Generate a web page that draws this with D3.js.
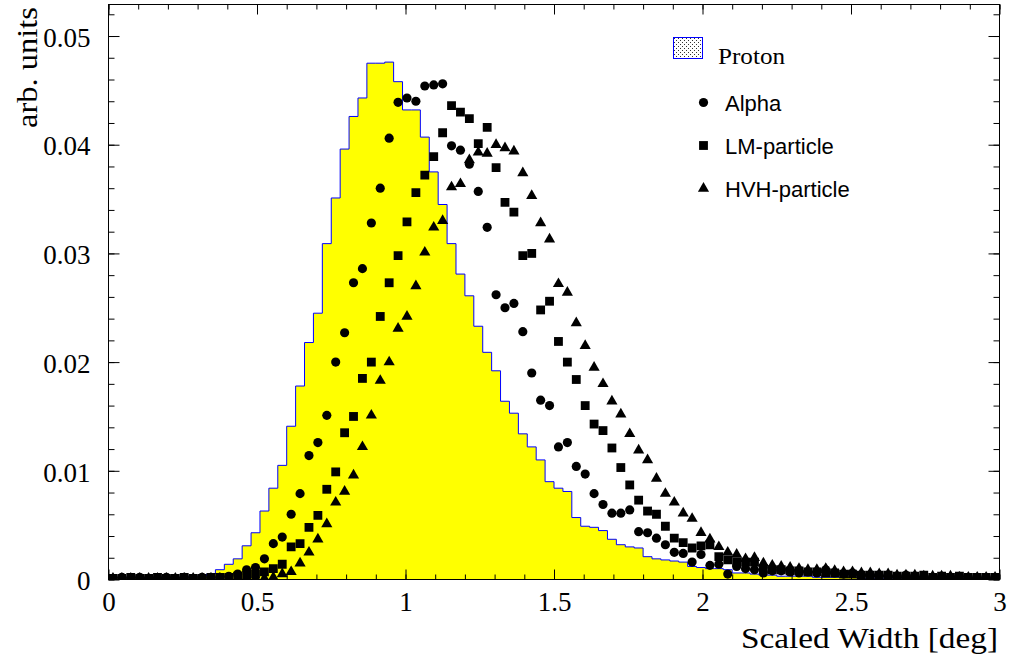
<!DOCTYPE html>
<html>
<head>
<meta charset="utf-8">
<script src="https://cdn.jsdelivr.net/npm/d3@7"></script>
<style>
    body { margin: 0; background: #fff; }
    svg { display: block; }
</style>
</head>
<body>
<div id="chart"></div>
<script>
"use strict";

// bin layout: 100 bins of 0.03 deg from 0 to 3
var binWidth = 0.03;
var nBins = 100;

// Proton histogram (bin contents, left to right)
var protonValues = [
    0.0002, 0.0002, 0.0002, 0.0002, 0.0002, 0.0002, 0.0002, 0.0002, 0.0002, 0.0003,
    0.0003, 0.0005, 0.0009, 0.0014, 0.0019, 0.0031, 0.0043, 0.0063, 0.0084, 0.0105,
    0.0141, 0.0178, 0.0218, 0.0245, 0.0309, 0.0351, 0.0396, 0.0426, 0.0443, 0.0475,
    0.0475, 0.0476, 0.0458, 0.0432, 0.0432, 0.0407, 0.0375, 0.0345, 0.0309, 0.0281,
    0.0261, 0.0233, 0.0209, 0.0192, 0.0164, 0.0153, 0.0134, 0.0122, 0.0110, 0.0090,
    0.0084, 0.0081, 0.0057, 0.0049, 0.0048, 0.0045, 0.0037, 0.0032, 0.0030, 0.0029,
    0.0021, 0.0019, 0.0018, 0.0017, 0.0016, 0.0012, 0.0011, 0.0010, 0.0010, 0.0009,
    0.0006, 0.0006, 0.0005, 0.0004, 0.0004, 0.0003, 0.0003, 0.0003, 0.0003, 0.0002,
    0.0002, 0.0002, 0.0002, 0.0002, 0.0001, 0.0001, 0.0001, 0.0001, 0.0001, 0.0001,
    0.0001, 0.0001, 0.0001, 0.0001, 0.0001, 0.0001, 0.0001, 0.0001, 0.0001, 0.0001
];

var alphaValues = [
    0.0001, 0.0002, 0.0001, 0.0002, 0.0001, 0.0001, 0.0002, 0.0001, 0.0002, 0.0001,
    0.0002, 0.0002, 0.0002, 0.0003, 0.0005, 0.0009, 0.0011, 0.0019, 0.0033, 0.0039,
    0.0060, 0.0079, 0.0114, 0.0126, 0.0151, 0.0200, 0.0227, 0.0273, 0.0286, 0.0328,
    0.0360, 0.0406, 0.0439, 0.0443, 0.0440, 0.0454, 0.0455, 0.0456, 0.0399, 0.0395,
    0.0382, 0.0357, 0.0324, 0.0262, 0.0250, 0.0254, 0.0228, 0.0190, 0.0165, 0.0160,
    0.0122, 0.0126, 0.0104, 0.0097, 0.0079, 0.0069, 0.0061, 0.0061, 0.0064, 0.0044,
    0.0043, 0.0038, 0.0032, 0.0025, 0.0024, 0.0016, 0.0023, 0.0013, 0.0014, 0.0005,
    0.0012, 0.0010, 0.0009, 0.0006, 0.0008, 0.0008, 0.0007, 0.0006, 0.0007, 0.0006,
    0.0009, 0.0006, 0.0005, 0.0006, 0.0004, 0.0004, 0.0004, 0.0003, 0.0003, 0.0004,
    0.0003, 0.0003, 0.0002, 0.0003, 0.0002, 0.0003, 0.0002, 0.0002, 0.0002, 0.0002
];

var lmValues = [
    0.0001, 0.0001, 0.0002, 0.0001, 0.0001, 0.0002, 0.0001, 0.0001, 0.0002, 0.0001,
    0.0001, 0.0002, 0.0002, 0.0002, 0.0003, 0.0004, 0.0005, 0.0007, 0.0010, 0.0014,
    0.0030, 0.0033, 0.0048, 0.0059, 0.0083, 0.0099, 0.0135, 0.0150, 0.0185, 0.0200,
    0.0242, 0.0273, 0.0298, 0.0329, 0.0356, 0.0372, 0.0389, 0.0411, 0.0436, 0.0430,
    0.0424, 0.0401, 0.0416, 0.0379, 0.0347, 0.0338, 0.0298, 0.0300, 0.0248, 0.0256,
    0.0219, 0.0200, 0.0184, 0.0160, 0.0143, 0.0137, 0.0121, 0.0103, 0.0087, 0.0073,
    0.0063, 0.0060, 0.0049, 0.0038, 0.0034, 0.0029, 0.0031, 0.0032, 0.0021, 0.0018,
    0.0016, 0.0016, 0.0016, 0.0010, 0.0009, 0.0009, 0.0008, 0.0008, 0.0007, 0.0007,
    0.0006, 0.0006, 0.0005, 0.0005, 0.0004, 0.0004, 0.0004, 0.0004, 0.0003, 0.0003,
    0.0003, 0.0004, 0.0002, 0.0003, 0.0002, 0.0003, 0.0002, 0.0002, 0.0002, 0.0002
];

var hvhValues = [
    0.0001, 0.0001, 0.0001, 0.0001, 0.0001, 0.0001, 0.0001, 0.0001, 0.0001, 0.0001,
    0.0001, 0.0001, 0.0001, 0.0001, 0.0001, 0.0001, 0.0001, 0.0001, 0.0002, 0.0005,
    0.0007, 0.0015, 0.0025, 0.0037, 0.0051, 0.0071, 0.0081, 0.0096, 0.0122, 0.0151,
    0.0183, 0.0200, 0.0231, 0.0242, 0.0270, 0.0301, 0.0324, 0.0330, 0.0361, 0.0364,
    0.0386, 0.0393, 0.0392, 0.0400, 0.0397, 0.0394, 0.0374, 0.0353, 0.0328, 0.0313,
    0.0272, 0.0264, 0.0236, 0.0215, 0.0195, 0.0180, 0.0164, 0.0152, 0.0134, 0.0119,
    0.0110, 0.0093, 0.0079, 0.0071, 0.0061, 0.0056, 0.0043, 0.0037, 0.0030, 0.0025,
    0.0023, 0.0019, 0.0020, 0.0015, 0.0013, 0.0012, 0.0011, 0.0010, 0.0009, 0.0009,
    0.0010, 0.0008, 0.0007, 0.0007, 0.0006, 0.0006, 0.0005, 0.0005, 0.0004, 0.0004,
    0.0004, 0.0003, 0.0003, 0.0003, 0.0003, 0.0002, 0.0002, 0.0002, 0.0002, 0.0002
];

var xMajorTicks = [0, 0.5, 1, 1.5, 2, 2.5, 3];
var yMajorTicks = [0, 0.01, 0.02, 0.03, 0.04, 0.05];
var xTickLabels = ["0", "0.5", "1", "1.5", "2", "2.5", "3"];
var yTickLabels = ["0", "0.01", "0.02", "0.03", "0.04", "0.05"];

var legendLabels = ["Proton", "Alpha", "LM-particle", "HVH-particle"];

function draw_chart() {
    var width = 1011, height = 661;
    var left = 108.5, right = 999.5, top = 4.5, bottom = 579.5;

    var svg = d3.select("#chart").append("svg")
        .attr("width", width)
        .attr("height", height);

    var x = d3.scaleLinear().domain([0, 3]).range([left, right]);
    var y = d3.scaleLinear().domain([0, 0.0529]).range([bottom, top]);

    var defs = svg.append("defs");
    defs.append("clipPath").attr("id", "plotclip")
        .append("rect")
        .attr("x", left).attr("y", top)
        .attr("width", right - left).attr("height", bottom - top);

    // dotted fill for the legend box
    var pat = defs.append("pattern").attr("id", "dots")
        .attr("patternUnits", "userSpaceOnUse")
        .attr("width", 4).attr("height", 4);
    pat.append("rect").attr("width", 4).attr("height", 4).attr("fill", "#fff");
    pat.append("rect").attr("x", 0).attr("y", 0).attr("width", 1).attr("height", 1).attr("fill", "#333");
    pat.append("rect").attr("x", 2).attr("y", 2).attr("width", 1).attr("height", 1).attr("fill", "#333");

    var plot = svg.append("g").attr("clip-path", "url(#plotclip)");

    // Proton histogram as a step curve
    var steps = protonValues.map(function (v, i) { return { x: i * binWidth, v: v }; });
    steps.push({ x: nBins * binWidth, v: protonValues[nBins - 1] });

    plot.append("path")
        .datum(steps)
        .attr("fill", "#ffff00")
        .attr("stroke", "none")
        .attr("d", d3.area()
            .curve(d3.curveStepAfter)
            .x(function (d) { return x(d.x); })
            .y0(y(0))
            .y1(function (d) { return y(d.v); }));

    plot.append("path")
        .datum(steps)
        .attr("fill", "none")
        .attr("stroke", "#0000ff")
        .attr("stroke-width", 1)
        .attr("d", d3.line()
            .curve(d3.curveStepAfter)
            .x(function (d) { return x(d.x); })
            .y(function (d) { return y(d.v); }));

    // markers at bin centres
    var series = [
        { values: alphaValues, symbol: d3.symbolCircle, size: 66 },
        { values: lmValues, symbol: d3.symbolSquare, size: 78 },
        { values: hvhValues, symbol: d3.symbolTriangle, size: 54 }
    ];

    series.forEach(function (s) {
        plot.append("g").selectAll("path")
            .data(s.values)
            .enter().append("path")
            .attr("transform", function (d, i) {
                return "translate(" + x((i + 0.5) * binWidth) + "," + y(d) + ")";
            })
            .attr("d", d3.symbol().type(s.symbol).size(s.size))
            .attr("fill", "#000");
    });

    // Axes: ticks inward on all four sides
    var xMinor = d3.range(0, 3.001, 0.1).map(function (d) { return +d.toFixed(1); });
    var yMinor = d3.range(0, 0.0525, 0.002).map(function (d) { return +d.toFixed(3); });

    var axisFont = "Liberation Serif, Times New Roman, serif";

    var xb = svg.append("g").attr("transform", "translate(0," + bottom + ")");
    xb.call(d3.axisBottom(x).tickValues(xMinor).tickSize(-5).tickFormat(""));
    xb.append("g").call(d3.axisBottom(x).tickValues(xMajorTicks).tickSize(-10).tickPadding(12)
        .tickFormat(function (d, i) { return xTickLabels[i]; }));

    var xt = svg.append("g").attr("transform", "translate(0," + top + ")");
    xt.call(d3.axisTop(x).tickValues(xMinor).tickSize(-5).tickFormat(""));
    xt.append("g").call(d3.axisTop(x).tickValues(xMajorTicks).tickSize(-10).tickFormat(""));

    var yl = svg.append("g").attr("transform", "translate(" + left + ",0)");
    yl.call(d3.axisLeft(y).tickValues(yMinor).tickSize(-6).tickFormat(""));
    yl.append("g").call(d3.axisLeft(y).tickValues(yMajorTicks).tickSize(-11).tickPadding(18)
        .tickFormat(function (d, i) { return yTickLabels[i]; }));

    var yr = svg.append("g").attr("transform", "translate(" + right + ",0)");
    yr.call(d3.axisRight(y).tickValues(yMinor).tickSize(-6).tickFormat(""));
    yr.append("g").call(d3.axisRight(y).tickValues(yMajorTicks).tickSize(-11).tickFormat(""));

    svg.selectAll(".domain").remove();
    svg.selectAll(".tick line").attr("stroke", "#000").attr("stroke-width", 1);
    svg.selectAll(".tick text")
        .attr("font-family", axisFont)
        .attr("font-size", 27)
        .attr("fill", "#000");
    yl.selectAll(".tick text").attr("dy", "0.38em");

    // frame
    svg.append("rect")
        .attr("x", left).attr("y", top)
        .attr("width", right - left).attr("height", bottom - top)
        .attr("fill", "none")
        .attr("stroke", "#000")
        .attr("stroke-width", 1);

    // axis titles
    svg.append("text")
        .attr("x", 998).attr("y", 648)
        .attr("text-anchor", "end")
        .attr("font-family", axisFont)
        .attr("font-size", 29)
        .attr("textLength", 257)
        .attr("lengthAdjust", "spacingAndGlyphs")
        .text("Scaled Width [deg]");

    svg.append("text")
        .attr("transform", "translate(37,7) rotate(-90)")
        .attr("text-anchor", "end")
        .attr("font-family", axisFont)
        .attr("font-size", 29)
        .attr("textLength", 121)
        .attr("lengthAdjust", "spacingAndGlyphs")
        .text("arb. units");

    // legend
    var lg = svg.append("g");
    lg.append("rect")
        .attr("x", 673.5).attr("y", 37.5)
        .attr("width", 29).attr("height", 21)
        .attr("fill", "url(#dots)")
        .attr("stroke", "#0000ff")
        .attr("stroke-width", 1);
    lg.append("text")
        .attr("x", 718).attr("y", 64)
        .attr("font-family", axisFont)
        .attr("font-size", 23)
        .attr("textLength", 67)
        .attr("lengthAdjust", "spacingAndGlyphs")
        .text(legendLabels[0]);

    var legendY = [102.5, 145.5, 188.5];
    series.forEach(function (s, i) {
        lg.append("path")
            .attr("transform", "translate(703.5," + legendY[i] + ")")
            .attr("d", d3.symbol().type(s.symbol).size(s.size))
            .attr("fill", "#000");
        lg.append("text")
            .attr("x", 725).attr("y", legendY[i] + 8)
            .attr("font-family", "Liberation Sans, Arial, sans-serif")
            .attr("font-size", 22)
            .text(legendLabels[i + 1]);
    });
};

draw_chart();
</script>
</body>
</html>
